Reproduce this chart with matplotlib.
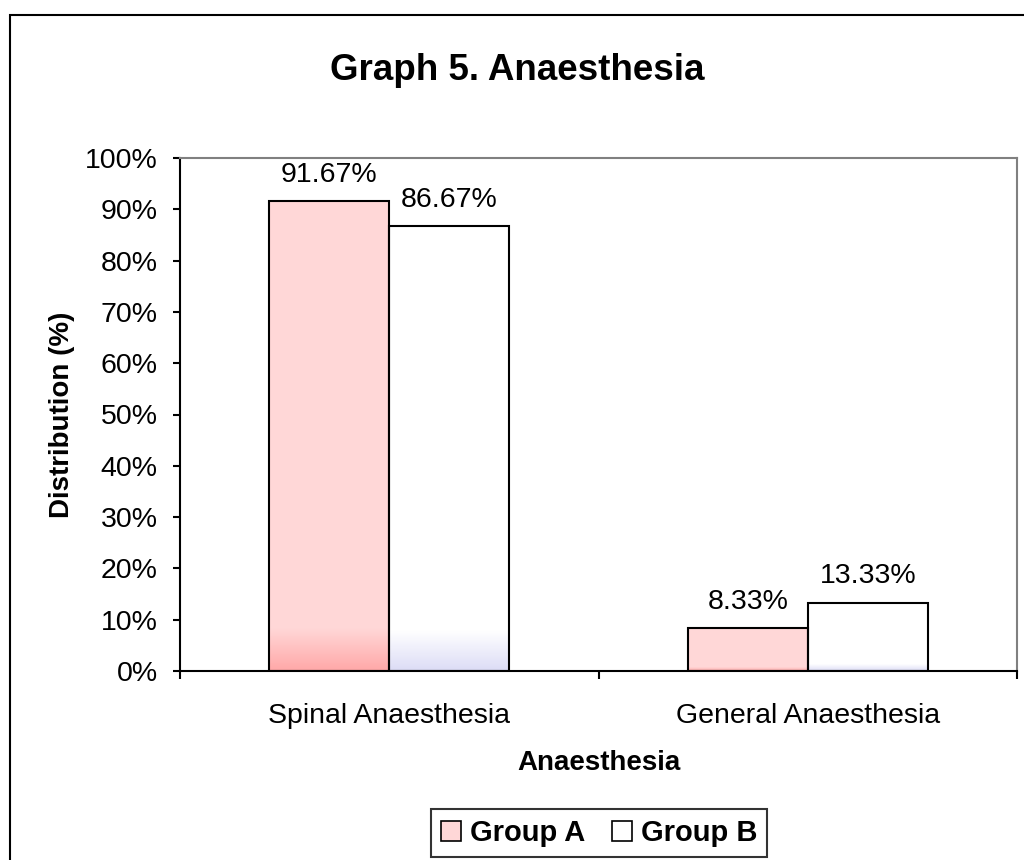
import numpy as np
import matplotlib
matplotlib.use("Agg")
import matplotlib.pyplot as plt
from matplotlib.patches import Rectangle
from matplotlib.colors import to_rgb
from matplotlib.ticker import PercentFormatter

plt.rcParams['font.family'] = ['Liberation Sans', 'DejaVu Sans']

# data
categories = ['Spinal Anaesthesia', 'General Anaesthesia']
group_a = [91.67, 8.33]
group_b = [86.67, 13.33]
series_names = ['Group A', 'Group B']

col_a = '#FFD7D7'
col_b = '#FFFFFF'
grad_a = '#FFA8A8'
grad_b = '#DCDCF6'

fig = plt.figure(figsize=(10.24, 8.6), dpi=100)
ax = fig.add_axes([180 / 1024, 1 - 671 / 860, 837 / 1024, 513 / 860])

x = np.arange(len(categories))
w = 0.287

def gradient_bars(xs, heights, top_col, bot_col):
    # excel-like gradient in the bottom of each bar
    t = np.array(to_rgb(top_col))
    b = np.array(to_rgb(bot_col))
    n = 64
    f = np.linspace(0, 1, n)[:, None]
    img = (b * (1 - f) + t * f)[:, None, :]
    for xc, h in zip(xs, heights):
        gh = h * 0.09
        ax.imshow(img, extent=[xc - w / 2, xc + w / 2, 0, gh], origin='lower',
                  aspect='auto', zorder=2.5, interpolation='bilinear')

xa = x - w / 2
xb = x + w / 2
ax.bar(xa, group_a, w, color=col_a, edgecolor='none', zorder=2)
ax.bar(xb, group_b, w, color=col_b, edgecolor='none', zorder=2)
gradient_bars(xa, group_a, col_a, grad_a)
gradient_bars(xb, group_b, col_b, grad_b)
ax.bar(xa, group_a, w, facecolor='none', edgecolor='black', linewidth=1.5, zorder=3)
ax.bar(xb, group_b, w, facecolor='none', edgecolor='black', linewidth=1.5, zorder=3)

for xs, vals in ((xa, group_a), (xb, group_b)):
    for xc, v in zip(xs, vals):
        ax.annotate('%.2f%%' % v, (xc, v), xytext=(0, 9.5), textcoords='offset points',
                    ha='center', va='bottom', fontsize=20.5)

ax.set_xlim(-0.5, 1.5)
ax.set_ylim(0, 100)
ax.set_yticks(np.arange(0, 101, 10))
ax.yaxis.set_major_formatter(PercentFormatter(decimals=0))
ax.set_xticks(x)
ax.set_xticklabels(categories)
ax.set_xticks([-0.5, 0.5, 1.5], minor=True)
ax.tick_params(axis='x', which='major', length=0, pad=23, labelsize=20.5)
ax.tick_params(axis='x', which='minor', length=6, width=1.5, direction='out')
ax.tick_params(axis='y', length=5, width=1.5, direction='out', pad=11, labelsize=20.5)

ax.set_ylabel('Distribution (%)', fontsize=20, fontweight='bold', labelpad=7)
ax.set_xlabel('Anaesthesia', fontsize=20, fontweight='bold', labelpad=15)

for s in ('left', 'bottom'):
    ax.spines[s].set_color('black')
    ax.spines[s].set_linewidth(1.5)
for s in ('top', 'right'):
    ax.spines[s].set_color('#808080')
    ax.spines[s].set_linewidth(1.5)

fig.text(0.505, 1 - 71 / 860, 'Graph 5. Anaesthesia', ha='center', va='center',
         fontsize=26.5, fontweight='bold')

# outer chart frame (runs off the right and bottom edges)
fig.patches.append(Rectangle((10 / 1024, -0.1), 1.1, (860 - 15) / 860 + 0.1,
                             transform=fig.transFigure, fill=False,
                             edgecolor='black', linewidth=1.5))

h1 = plt.Line2D([], [], marker='s', linestyle='none', markersize=14,
                markerfacecolor=col_a, markeredgecolor='black', markeredgewidth=1.2)
h2 = plt.Line2D([], [], marker='s', linestyle='none', markersize=14,
                markerfacecolor=col_b, markeredgecolor='black', markeredgewidth=1.2)
leg = fig.legend([h1, h2], series_names, loc='center', ncol=2,
                 bbox_to_anchor=(599 / 1024, 1 - 833 / 860),
                 prop={'size': 21, 'weight': 'bold'}, frameon=True, fancybox=False,
                 handlelength=0.7, handletextpad=0.3, columnspacing=0.9,
                 borderpad=0.35, borderaxespad=0, edgecolor='black')
leg.get_frame().set_linewidth(1.5)

fig.savefig('out.png', dpi=100)
